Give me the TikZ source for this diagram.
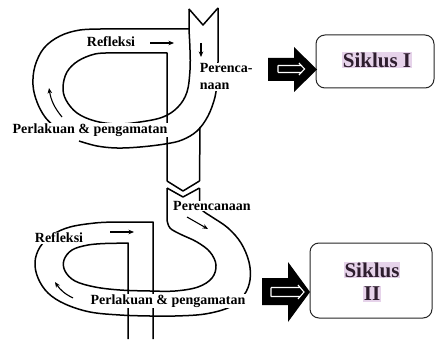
\documentclass[tikz,border=0pt]{standalone}
\usepackage{fontspec}
\setmainfont{Liberation Serif}
\usetikzlibrary{arrows.meta}
\definecolor{hl}{HTML}{E6D3EA}
\definecolor{sk}{HTML}{2E1E2E}
\begin{document}
\begin{tikzpicture}[x=1pt,y=-1pt,
  band/.style={line width=1.5pt, line join=round},
  lbl/.style={font=\fontsize{14}{17}\selectfont\bfseries, fill=white, inner sep=0.6pt},
  flow/.style={line width=1.1pt, -{Stealth[length=5.5pt,width=4.5pt]}},
  boxn/.style={draw=black!85, fill=white, line width=1pt, rounded corners=9pt},
  sik/.style={font=\fontsize{21}{24}\selectfont\bfseries, text=sk, fill=hl, inner sep=1pt},
  blk/.style={fill=black},
  wht/.style={draw=white, line width=1.1pt}]
\fill[white] (0,0) rectangle (435,339);
\useasboundingbox (0,0) rectangle (435,339);

% ---------- top spiral ----------
% notch
\draw[band] (189,9) -- (203,25) -- (218,8);
% outer edge, right and bottom part
\draw[band] (218,8) -- (218,62)
  plot[smooth, tension=0.6] coordinates {(218,62) (217,80) (215,97) (208,116) (197,131) (182,140) (165,144) (140,147) (117,148) (97,146) (79,141)};
% outer edge, left and top part
\draw[band] plot[smooth, tension=0.6] coordinates {(56,128) (45,117) (37,102) (33,85) (35,66) (44,48) (60,36) (80,30) (105,29)}
  -- (189,29);
% inner edge
\draw[band] (189,9) -- (189,30)
  plot[smooth, tension=0.6] coordinates {(189,30) (190,50) (190,70) (187,92) (178,107) (163,117) (140,122) (117,124) (95,121) (77,113) (66,100) (63,87) (67,72) (78,61) (95,54) (112,53)}
  -- (167,53) -- (167,181);
% right line of descending band
\draw[band] (200,127) -- (199.5,181);

% ---------- chevron ----------
\draw[band] (167,181) -- (183,191) -- (199.5,181);
\draw[band] (167,188) -- (183,197) -- (199.5,188);

% ---------- bottom spiral ----------
% outer edge
\draw[band] (199.5,188) -- (199.5,205)
  plot[smooth, tension=0.6] coordinates {(199.5,205) (203,211) (212,217) (228,228) (241,243) (249,262) (250,280) (244,295) (230,307) (205,314) (175,316) (150,316) (120,315) (90,312) (65,304) (48,293) (38,278) (35,262) (40,247) (52,235) (70,227) (95,223) (115,222)}
  -- (153,222) -- (153,339);
% inner edge
\draw[band] (167,188) -- (167,220)
  plot[smooth, tension=0.6] coordinates {(167,220) (170,228) (180,234) (197,242) (210,252) (216,265) (212,278) (198,287) (175,291) (150,291) (120,290) (95,287) (75,281) (65,271) (64,260) (72,250) (88,245) (105,243.5)}
  -- (128,243) -- (128,339);

% ---------- labels ----------
\node[lbl] (refl1) at (111,42) {Refleksi};
\node[lbl, align=left, anchor=north west] (pere1) at (199,63) {Perenca-\\naan};
\node[lbl] (perl1) at (90,130) {Perlakuan \& pengamatan};
\node[lbl] (refl2) at (59,238) {Refleksi};
\node[lbl] (pere2) at (212,206) {Perencanaan};
\node[lbl] (perl2) at (168,301) {Perlakuan \& pengamatan};

% ---------- flow arrows ----------
\coordinate (a1s) at (150,43); \coordinate (a1e) at (174,43);
\draw[flow] (a1s) -- (a1e);
\coordinate (a2s) at (201,43); \coordinate (a2e) at (201,57);
\draw[flow] (a2s) -- (a2e);
\coordinate (a3s) at (62,117); \coordinate (a3e) at (49,88);
\draw[flow] (a3s) to[bend left=15] (a3e);
\coordinate (b1s) at (110,232); \coordinate (b1e) at (134,232);
\draw[flow] (b1s) -- (b1e);
\coordinate (b2s) at (187,217); \coordinate (b2e) at (208,229);
\draw[flow] (b2s) -- (b2e);
\coordinate (b3s) at (73,298); \coordinate (b3e) at (55,282);
\draw[flow] (b3s) to[bend left=15] (b3e);

% ---------- boxes ----------
\node[boxn, minimum width=118pt, minimum height=53pt] (box1) at (375,61.5) {};
\node[sik] (sk1) at (377,60) {Siklus I};
\node[boxn, minimum width=122pt, minimum height=75pt] (box2) at (371,280.5) {};
\node[sik] (sk2a) at (372,270) {Siklus};
\node[sik] (sk2b) at (372,294) {II};

% ---------- block arrows ----------
\fill[blk] (268,58) -- (294,58) -- (294,47) -- (317,69.5) -- (294,92) -- (294,81) -- (268,81) -- cycle;
\draw[wht] (278,65.5) -- (301,65.5) (278,72.5) -- (301,72.5) (278,65.5) -- (278,72.5) (299,63) -- (304.5,69) -- (299,75);
\fill[blk] (262,278) -- (288,278) -- (288,262) -- (310,292) -- (288,322) -- (288,305) -- (262,305) -- cycle;
\draw[wht] (271,287.5) -- (300,287.5) (271,296.5) -- (300,296.5) (271,287.5) -- (271,296.5) (298,285) -- (304,292) -- (298,299);
\end{tikzpicture}
\end{document}
